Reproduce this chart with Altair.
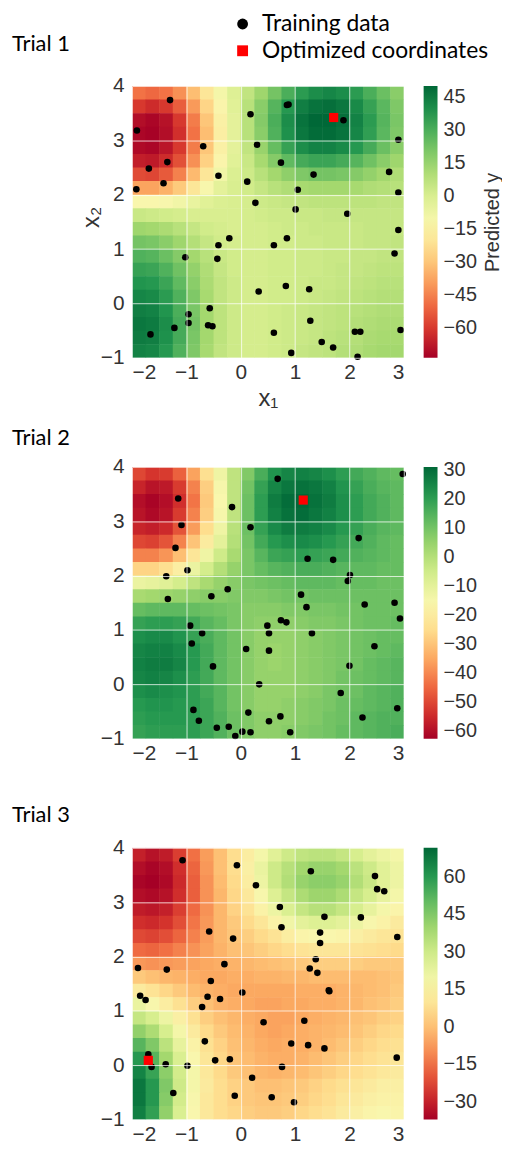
import altair as alt
import pandas as pd

# ---------------- data ----------------
# centres of the 0.25 x 0.25 cells of the predicted surface
GRID_X = [-1.875, -1.625, -1.375, -1.125, -0.875, -0.625, -0.375, -0.125, 0.125, 0.375,
          0.625, 0.875, 1.125, 1.375, 1.625, 1.875, 2.125, 2.375, 2.625, 2.875]
GRID_Y = [3.875, 3.625, 3.375, 3.125, 2.875, 2.625, 2.375, 2.125, 1.875, 1.625,
          1.375, 1.125, 0.875, 0.625, 0.375, 0.125, -0.125, -0.375, -0.625, -0.875]
CELL = 0.25

X_TICKS = [-2, -1, 0, 1, 2, 3]
Y_TICKS = [-1, 0, 1, 2, 3, 4]

# Trial 1 predicted surface (rows top -> bottom)
T1_FIELD = [
    [-48, -50, -48, -42, -32, -20, -10, -2, 6, 14, 22, 30, 36, 40, 42, 40, 36, 30, 24, 18],
    [-60, -63, -60, -52, -40, -26, -13, -3, 8, 18, 28, 37, 44, 47, 48, 46, 41, 34, 27, 20],
    [-70, -72, -69, -60, -46, -30, -15, -4, 8, 19, 30, 40, 47, 50, 50, 48, 43, 36, 28, 21],
    [-72, -73, -70, -62, -48, -32, -16, -4, 8, 18, 29, 39, 46, 49, 49, 47, 42, 35, 27, 20],
    [-71, -72, -68, -60, -46, -30, -15, -4, 6, 15, 25, 34, 40, 43, 43, 41, 37, 31, 24, 18],
    [-66, -67, -63, -55, -42, -27, -13, -3, 4, 12, 19, 26, 31, 33, 33, 31, 28, 23, 18, 14],
    [-56, -57, -53, -45, -33, -20, -9, -1, 3, 8, 13, 17, 20, 22, 22, 21, 19, 16, 13, 10],
    [-38, -38, -35, -29, -20, -11, -4, 0, 2, 5, 8, 10, 12, 13, 13, 13, 12, 10, 9, 8],
    [-12, -12, -11, -9, -6, -3, -1, 0, 1, 3, 4, 5, 6, 7, 7, 7, 7, 7, 6, 6],
    [4, 3, 2, 1, 0, 0, 0, 0, 1, 2, 3, 3, 4, 4, 5, 5, 5, 5, 5, 5],
    [14, 13, 11, 8, 5, 2, 1, 0, 1, 1, 2, 3, 3, 4, 4, 4, 4, 5, 5, 5],
    [22, 21, 18, 14, 9, 5, 2, 1, 1, 1, 2, 2, 3, 3, 4, 4, 4, 5, 5, 6],
    [29, 28, 24, 19, 13, 8, 4, 2, 1, 1, 2, 2, 3, 3, 4, 4, 5, 5, 6, 6],
    [34, 33, 29, 23, 16, 10, 5, 2, 1, 1, 2, 2, 3, 3, 4, 5, 5, 6, 7, 7],
    [38, 37, 33, 26, 18, 11, 6, 3, 1, 1, 2, 2, 3, 4, 4, 5, 6, 7, 8, 8],
    [42, 41, 36, 29, 20, 12, 6, 3, 1, 1, 2, 2, 3, 4, 5, 6, 7, 8, 9, 9],
    [44, 43, 38, 30, 21, 13, 7, 3, 1, 1, 2, 3, 4, 5, 6, 7, 8, 9, 10, 10],
    [46, 45, 40, 31, 22, 13, 7, 3, 1, 1, 2, 3, 4, 5, 6, 7, 9, 10, 11, 11],
    [45, 44, 39, 31, 21, 13, 7, 3, 1, 1, 2, 3, 4, 5, 7, 8, 9, 11, 12, 12],
    [43, 42, 37, 29, 20, 12, 6, 3, 1, 1, 2, 3, 5, 6, 7, 9, 10, 12, 13, 13],
]
T1_X = [-1.30, -1.91, -1.69, -1.35, -1.42, -1.92, -0.69, -0.41, 0.18, 0.30,
        0.12, 0.27, 0.85, 0.88, 0.74, 1.05, 1.34, 1.01, 1.89, 1.96,
        2.73, 2.90, 2.90, 2.90, 2.83, -1.02, -0.41, -0.21, -0.43, 0.61,
        0.85, 0.83, 0.33, 1.26, -0.96, -0.96, -0.57, -0.60, -0.52, -1.22,
        -1.66, 0.61, 1.28, 1.49, 1.70, 0.93, 2.10, 2.20, 2.15, 2.94]
T1_Y = [3.74, 3.18, 2.48, 2.60, 2.21, 2.10, 2.89, 2.35, 3.48, 2.92,
        2.24, 1.85, 3.65, 3.66, 2.59, 2.09, 2.37, 1.73, 3.37, 1.65,
        2.42, 3.01, 2.04, 1.35, 0.92, 0.85, 1.07, 1.20, 0.82, 1.07,
        1.20, 0.32, 0.22, 0.26, -0.20, -0.36, -0.09, -0.40, -0.42, -0.45,
        -0.57, -0.54, -0.32, -0.71, -0.81, -0.91, -0.52, -0.52, -0.98, -0.49]
T1_OPT = [1.71, 3.42]
T1_DOMAIN = [-73.5, 50]
T1_TICKS = [45, 30, 15, 0, -15, -30, -45, -60]

# Trial 2
T2_FIELD = [
    [-50, -53, -52, -46, -36, -24, -13, -2, 8, 16, 22, 25, 26, 25, 23, 20, 17, 15, 13, 12],
    [-56, -59, -58, -52, -41, -28, -15, -2, 10, 19, 25, 28, 29, 28, 26, 22, 19, 16, 14, 13],
    [-60, -62, -60, -54, -43, -29, -16, -2, 11, 20, 27, 30, 31, 29, 27, 23, 20, 17, 15, 13],
    [-59, -61, -59, -52, -41, -28, -15, -2, 11, 20, 26, 29, 30, 28, 26, 23, 20, 17, 15, 13],
    [-56, -57, -55, -48, -37, -25, -13, -1, 11, 19, 24, 27, 27, 26, 24, 21, 19, 16, 14, 13],
    [-50, -51, -48, -41, -30, -20, -10, 0, 10, 17, 21, 23, 24, 23, 21, 19, 17, 15, 13, 12],
    [-41, -41, -38, -31, -22, -13, -5, 2, 9, 14, 18, 19, 20, 19, 18, 17, 15, 14, 13, 12],
    [-27, -27, -24, -19, -12, -6, 0, 5, 9, 12, 14, 15, 16, 16, 15, 14, 13, 13, 12, 12],
    [-12, -11, -9, -6, -2, 2, 5, 7, 9, 10, 11, 12, 13, 13, 13, 12, 12, 12, 11, 11],
    [2, 3, 4, 5, 6, 7, 7, 8, 8, 8, 9, 10, 10, 11, 11, 11, 11, 11, 11, 11],
    [12, 13, 13, 13, 12, 11, 10, 9, 7, 7, 7, 8, 8, 9, 9, 10, 10, 11, 11, 11],
    [19, 20, 20, 19, 17, 14, 12, 9, 7, 6, 6, 6, 7, 8, 8, 9, 10, 11, 11, 12],
    [23, 24, 24, 22, 19, 16, 13, 10, 7, 5, 5, 5, 6, 7, 8, 9, 10, 11, 12, 12],
    [25, 26, 26, 24, 21, 17, 13, 10, 7, 5, 4, 5, 6, 7, 8, 9, 10, 11, 12, 13],
    [26, 27, 27, 25, 21, 17, 13, 10, 7, 5, 4, 5, 6, 7, 8, 9, 10, 12, 13, 14],
    [25, 26, 25, 23, 20, 17, 13, 10, 7, 5, 5, 5, 6, 7, 8, 10, 11, 12, 13, 14],
    [23, 24, 23, 22, 20, 17, 14, 10, 7, 5, 5, 5, 6, 7, 9, 10, 11, 13, 14, 15],
    [21, 22, 22, 21, 20, 18, 14, 10, 7, 5, 5, 6, 7, 8, 9, 11, 12, 13, 14, 15],
    [20, 21, 21, 21, 20, 18, 15, 11, 8, 6, 6, 6, 7, 8, 10, 11, 13, 14, 15, 15],
    [19, 20, 20, 20, 20, 18, 15, 11, 8, 6, 6, 7, 8, 9, 10, 12, 13, 14, 15, 16],
]
T2_X = [2.98, 0.68, -1.15, -0.16, -1.09, 0.18, -1.20, -0.98, -1.37, -1.34,
        -0.24, -0.54, 2.17, 1.23, 1.70, 2.01, 1.97, 1.11, 1.21, 2.28,
        2.83, 2.93, -0.93, -0.71, -0.90, 0.49, 0.52, 0.74, 0.84, 1.31,
        0.10, 0.52, -0.51, 0.34, 2.46, 2.00, 1.84, 2.88, 2.24, -0.87,
        -0.77, -0.44, -0.22, -0.10, 0.03, 0.18, 0.14, 0.52, 0.73, 0.91]
T2_Y = [3.87, 3.78, 3.42, 3.26, 2.93, 2.89, 2.51, 2.10, 1.99, 1.57,
        1.75, 1.62, 2.69, 2.31, 2.29, 2.01, 1.90, 1.65, 1.42, 1.47,
        1.50, 1.21, 1.08, 0.94, 0.75, 1.08, 0.94, 1.18, 1.14, 0.94,
        0.65, 0.62, 0.33, 0.00, 0.70, 0.34, -0.16, -0.44, -0.61, -0.47,
        -0.67, -0.80, -0.78, -0.95, -0.87, -0.88, -0.52, -0.68, -0.59, -0.88]
T2_OPT = [1.15, 3.39]
T2_DOMAIN = [-62.7, 31]
T2_TICKS = [30, 20, 10, 0, -10, -20, -30, -40, -50, -60]

# Trial 3
T3_FIELD = [
    [-30, -33, -31, -24, -15, -7, 0, 7, 13, 19, 25, 30, 33, 34, 34, 32, 28, 24, 21, 19],
    [-34, -36, -34, -27, -17, -8, 0, 7, 14, 22, 30, 35, 39, 41, 41, 39, 34, 30, 25, 21],
    [-36, -37, -35, -28, -18, -9, -1, 6, 13, 21, 30, 36, 41, 43, 43, 41, 36, 31, 25, 21],
    [-34, -35, -33, -27, -18, -9, -2, 5, 11, 18, 26, 32, 37, 40, 40, 37, 32, 28, 23, 19],
    [-31, -32, -30, -24, -16, -9, -2, 4, 9, 15, 21, 27, 32, 35, 35, 32, 28, 23, 19, 16],
    [-27, -28, -26, -21, -14, -8, -2, 2, 6, 10, 15, 20, 24, 26, 26, 24, 21, 18, 15, 12],
    [-22, -23, -21, -17, -12, -7, -2, 1, 3, 6, 9, 13, 16, 17, 17, 16, 14, 12, 10, 9],
    [-16, -17, -15, -12, -9, -6, -3, 0, 1, 3, 5, 7, 9, 10, 10, 10, 9, 8, 7, 6],
    [-8, -9, -8, -7, -6, -5, -4, -3, -2, -1, 0, 1, 2, 3, 3, 3, 3, 2, 2, 2],
    [2, 0, -2, -3, -4, -5, -5, -4, -4, -3, -3, -2, -2, -1, -1, -1, -1, -1, 0, 1],
    [12, 9, 5, 2, -1, -3, -4, -5, -5, -5, -5, -5, -4, -4, -4, -3, -2, -1, 0, 2],
    [22, 18, 13, 8, 3, 0, -3, -4, -5, -6, -6, -5, -5, -4, -4, -3, -2, 0, 1, 3],
    [32, 28, 21, 14, 8, 3, 0, -2, -4, -5, -6, -6, -5, -4, -3, -2, 0, 1, 3, 4],
    [42, 37, 28, 19, 12, 6, 2, -1, -3, -5, -6, -5, -4, -3, -2, -1, 1, 3, 5, 6],
    [52, 45, 34, 23, 15, 8, 4, 0, -2, -4, -5, -4, -4, -3, -1, 1, 3, 5, 7, 8],
    [60, 52, 39, 27, 17, 10, 5, 1, -1, -3, -4, -4, -3, -1, 1, 3, 5, 7, 9, 10],
    [65, 57, 43, 29, 19, 11, 6, 2, 0, -2, -3, -2, -1, 1, 3, 5, 7, 9, 11, 12],
    [68, 60, 45, 30, 19, 12, 7, 4, 2, 0, 0, 1, 2, 4, 6, 8, 10, 12, 14, 14],
    [68, 60, 44, 29, 18, 11, 7, 4, 2, 1, 1, 2, 3, 5, 7, 10, 12, 14, 15, 15],
    [66, 58, 42, 27, 17, 11, 7, 5, 3, 2, 2, 3, 5, 7, 9, 12, 14, 16, 17, 16],
]
T3_X = [-1.07, -0.07, 0.28, 1.29, 2.47, 2.51, 2.64, 0.72, 0.75, 1.54,
        2.21, 2.88, -0.58, -0.14, 1.46, 1.46, 1.38, 1.27, 1.41, -0.30,
        -1.89, -1.36, -0.55, 0.03, -0.61, -0.38, -1.85, -1.75, -0.71, 1.62,
        1.63, 0.42, 1.17, -0.66, 0.93, 1.24, 1.54, 2.87, -1.70, -1.64,
        -1.38, -0.98, -0.47, -0.20, 0.76, 0.21, -1.24, -0.11, 0.57, 0.98]
T3_Y = [3.77, 3.68, 3.31, 3.57, 3.48, 3.24, 3.20, 2.91, 2.54, 2.73,
        2.72, 2.36, 2.46, 2.33, 2.44, 2.25, 1.95, 1.78, 1.70, 1.86,
        1.79, 1.76, 1.55, 1.34, 1.26, 1.22, 1.28, 1.20, 1.07, 1.38,
        1.36, 0.79, 0.82, 0.44, 0.40, 0.37, 0.31, 0.14, 0.20, -0.03,
        0.02, -0.01, 0.09, 0.11, -0.03, -0.23, -0.51, -0.56, -0.59, -0.68]
T3_OPT = [-1.70, 0.09]
T3_DOMAIN = [-37, 71.5]
T3_TICKS = [60, 45, 30, 15, 0, -15, -30]

KINDS = ["Training data", "Optimized coordinates"]

# ---------------- styling ----------------
W = 274
H = 274
AX_FONT = "Liberation Sans"
TXT_FONT = "Lato"
EPS = 0.01  # tiny overlap so neighbouring cells leave no seams


def field_df(field):
    rows = []
    for j, yc in enumerate(GRID_Y):
        for i, xc in enumerate(GRID_X):
            rows.append({"x": xc - CELL / 2, "x2": xc + CELL / 2 + EPS,
                         "y": yc - CELL / 2 - EPS, "y2": yc + CELL / 2,
                         "v": field[j][i]})
    return pd.DataFrame(rows)


def panel(n, field, tx, ty, opt, domain, ticks, first, title_offset, title_dy):
    xs = alt.Scale(domain=[-2, 3], nice=False, zero=False)
    ys = alt.Scale(domain=[-1, 4], nice=False, zero=False)
    axis_common = dict(grid=True, gridColor="white", gridOpacity=0.75, gridWidth=1,
                       domain=False, ticks=False, labelFont=AX_FONT, labelFontSize=21,
                       labelColor="#333333", zindex=1, format="d",
                       titleFont=AX_FONT, titleFontSize=24, titleFontWeight="normal",
                       titleColor="#333333")
    if first:
        xaxis = alt.Axis(values=X_TICKS, labelPadding=4, title="x₁", titlePadding=4,
                         **axis_common)
        yaxis = alt.Axis(values=Y_TICKS, labelPadding=8, title="x₂", titleX=-29,
                         titleY=132, **axis_common)
    else:
        xaxis = alt.Axis(values=X_TICKS, labelPadding=4, title=None, **axis_common)
        yaxis = alt.Axis(values=Y_TICKS, labelPadding=8, title=None, **axis_common)

    fdf = field_df(field)
    heat = alt.Chart(fdf).mark_rect(clip=True).encode(
        x=alt.X("x:Q", scale=xs, axis=xaxis),
        x2="x2:Q",
        y=alt.Y("y:Q", scale=ys, axis=yaxis),
        y2="y2:Q",
        color=alt.Color("v:Q", scale=alt.Scale(scheme="redyellowgreen", domain=domain),
                        legend=alt.Legend(orient="none", legendX=294, legendY=0,
                                          direction="vertical", title=None, padding=0,
                                          gradientLength=H, gradientThickness=14,
                                          values=ticks, labelFont=AX_FONT,
                                          labelFontSize=20, labelColor="#333333",
                                          labelOverlap=False, gradientStrokeWidth=0,
                                          labelOffset=6)),
    )

    if first:
        sym_leg = alt.Legend(orient="none", legendX=100, legendY=-74, title=None,
                             padding=0, labelFont=TXT_FONT, labelFontSize=23,
                             labelColor="black", symbolSize=120, symbolStrokeWidth=0,
                             labelOffset=8, rowPadding=3, labelLimit=400)
    else:
        sym_leg = None
    fill_scale = alt.Scale(domain=KINDS, range=["black", "#ff0000"])
    shape_scale = alt.Scale(domain=KINDS, range=["circle", "square"])

    train = pd.DataFrame({"x": tx, "y": ty, "kind": [KINDS[0]] * len(tx)})
    best = pd.DataFrame({"x": [opt[0]], "y": [opt[1]], "kind": [KINDS[1]]})

    def pts_layer(df, size):
        return alt.Chart(df).mark_point(filled=True, opacity=1, strokeWidth=0,
                                        size=size).encode(
            x=alt.X("x:Q", scale=xs, axis=xaxis),
            y=alt.Y("y:Q", scale=ys, axis=yaxis),
            fill=alt.Fill("kind:N", scale=fill_scale, legend=sym_leg),
            shape=alt.Shape("kind:N", scale=shape_scale, legend=sym_leg),
        )

    core = alt.layer(heat, pts_layer(train, 44), pts_layer(best, 85))

    if first:
        # invisible layer that only carries the colour-bar caption on a right axis
        cb_title = alt.Chart(fdf).mark_point(opacity=0, size=1).encode(
            x=alt.X("x:Q", scale=xs, axis=xaxis),
            y=alt.Y("v:Q", scale=alt.Scale(domain=domain, nice=False, zero=False),
                    axis=alt.Axis(orient="right", title="Predicted y", titleAngle=270,
                                  labels=False, ticks=False, domain=False, grid=False,
                                  offset=99, titlePadding=0, titleFont=AX_FONT,
                                  titleFontSize=20, titleFontWeight="normal",
                                  titleColor="#333333")),
        )
        body = alt.layer(core, cb_title).resolve_scale(y="independent")
    else:
        body = core

    return body.properties(
        width=W, height=H,
        title=alt.TitleParams(text=f"Trial {n}", anchor="start", frame="group", dx=-121,
                              dy=title_dy, font=TXT_FONT, fontSize=22,
                              fontWeight="normal", color="black", offset=title_offset),
    )


p1 = panel(1, T1_FIELD, T1_X, T1_Y, T1_OPT, T1_DOMAIN, T1_TICKS, True, 17, 61)
p2 = panel(2, T2_FIELD, T2_X, T2_Y, T2_OPT, T2_DOMAIN, T2_TICKS, False, 6, 0)
p3 = panel(3, T3_FIELD, T3_X, T3_Y, T3_OPT, T3_DOMAIN, T3_TICKS, False, 10, 0)

chart = alt.vconcat(p1, p2, p3, spacing=110, bounds="flush").resolve_scale(
    color="independent", fill="independent", shape="independent"
).properties(
    padding={"left": 4, "top": 0, "right": 0, "bottom": 0},
    background="white",
).configure_view(stroke=None)

chart.save("out.html", embed_options={"renderer": "svg", "actions": False})
